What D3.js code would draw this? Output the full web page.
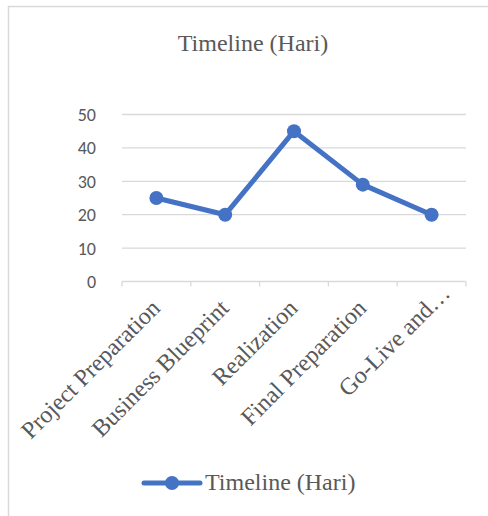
<!DOCTYPE html>
<html>
<head>
<meta charset="utf-8">
<script src="https://cdn.jsdelivr.net/npm/d3@7"></script>
<style>
  body { margin: 0; background: #fff; }
</style>
</head>
<body>
<div id="chart"></div>
<script>
const phases = ["Project Preparation", "Business Blueprint", "Realization", "Final Preparation", "Go-Live and…"];
const days = [25, 20, 45, 29, 20];
const yTicks = [0, 10, 20, 30, 40, 50];
const seriesName = "Timeline (Hari)";

const width = 488;
const height = 516;
const blue = "#4472C4";
const serif = "'Liberation Serif', 'Times New Roman', serif";
const sans = "Carlito, 'Liberation Sans', Arial, sans-serif";

const svg = d3
  .select("#chart")
  .append("svg")
  .attr("width", width)
  .attr("height", height);

// chart frame (only top and left edges show)
svg
  .append("path")
  .attr("d", "M8.5,520 V6.5 H500")
  .attr("fill", "none")
  .attr("stroke", "#d9d9d9")
  .attr("stroke-width", 1.5);

svg
  .append("text")
  .attr("x", 253)
  .attr("y", 51)
  .attr("text-anchor", "middle")
  .attr("font-family", serif)
  .attr("font-size", 24)
  .attr("fill", "#595959")
  .text(seriesName);

const x = d3.scaleBand().domain(phases).range([122, 466]);
const y = d3.scaleLinear().domain([0, 50]).range([281.5, 114.5]);

// gridlines
svg
  .selectAll("line.grid")
  .data(yTicks.filter((d) => d > 0))
  .join("line")
  .attr("class", "grid")
  .attr("x1", 122)
  .attr("x2", 466)
  .attr("y1", (d) => y(d))
  .attr("y2", (d) => y(d))
  .attr("stroke", "#d9d9d9")
  .attr("stroke-width", 1.3);

// y labels
svg
  .selectAll("text.ylab")
  .data(yTicks)
  .join("text")
  .attr("class", "ylab")
  .attr("x", 96)
  .attr("y", (d) => y(d) + 6.5)
  .attr("text-anchor", "end")
  .attr("font-family", sans)
  .attr("font-size", 18)
  .attr("fill", "#595959")
  .text((d) => d);

// x axis line + ticks
svg
  .append("line")
  .attr("x1", 122)
  .attr("x2", 466)
  .attr("y1", y(0))
  .attr("y2", y(0))
  .attr("stroke", "#d9d9d9")
  .attr("stroke-width", 1.3);

const tickPos = phases.map((p) => x(p)).concat([x.range()[1]]);
svg
  .selectAll("line.tick")
  .data(tickPos)
  .join("line")
  .attr("class", "tick")
  .attr("x1", (d) => d)
  .attr("x2", (d) => d)
  .attr("y1", y(0))
  .attr("y2", y(0) + 5)
  .attr("stroke", "#d9d9d9")
  .attr("stroke-width", 1.3);

// x labels, rotated; truncated label sits further along its baseline
svg
  .selectAll("text.xlab")
  .data(phases)
  .join("text")
  .attr("class", "xlab")
  .attr("transform", (d) => `translate(${x(d) + x.bandwidth() / 2 + 5},${y(0) + 28}) rotate(-45)`)
  .attr("dx", (d) => (d.endsWith("…") ? 21 : 0))
  .attr("text-anchor", "end")
  .attr("font-family", serif)
  .attr("font-size", 24)
  .attr("fill", "#595959")
  .text((d) => d);

// series line
const line = d3
  .line()
  .x((d, i) => x(phases[i]) + x.bandwidth() / 2)
  .y((d) => y(d));

svg
  .append("path")
  .datum(days)
  .attr("d", line)
  .attr("fill", "none")
  .attr("stroke", blue)
  .attr("stroke-width", 5)
  .attr("stroke-linejoin", "round");

svg
  .selectAll("circle.pt")
  .data(days)
  .join("circle")
  .attr("class", "pt")
  .attr("cx", (d, i) => x(phases[i]) + x.bandwidth() / 2)
  .attr("cy", (d) => y(d))
  .attr("r", 7)
  .attr("fill", blue);

// legend
const legend = svg.append("g").attr("transform", "translate(144,483)");
legend
  .append("line")
  .attr("x1", 0)
  .attr("x2", 56)
  .attr("stroke", blue)
  .attr("stroke-width", 5)
  .attr("stroke-linecap", "round");
legend.append("circle").attr("cx", 28).attr("r", 7).attr("fill", blue);
legend
  .append("text")
  .attr("x", 61)
  .attr("y", 7)
  .attr("font-family", serif)
  .attr("font-size", 24)
  .attr("fill", "#595959")
  .text(seriesName);
</script>
</body>
</html>
